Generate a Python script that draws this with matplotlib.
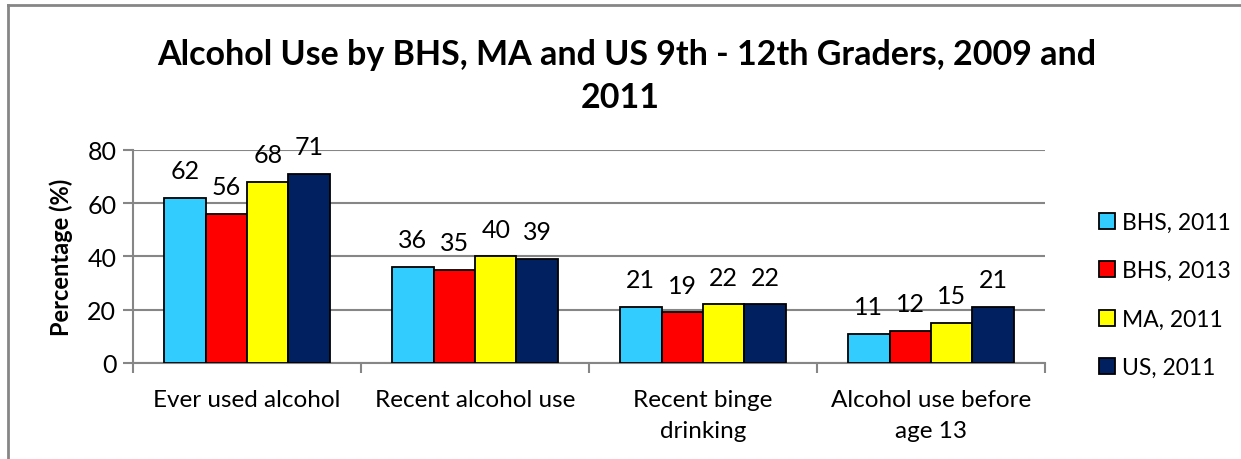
import matplotlib
matplotlib.use("Agg")
import matplotlib.pyplot as plt
import numpy as np
from matplotlib.lines import Line2D
from matplotlib.patches import Patch

categories = ["Ever used alcohol", "Recent alcohol use", "Recent binge\ndrinking", "Alcohol use before\nage 13"]
series_names = ["BHS, 2011", "BHS, 2013", "MA, 2011", "US, 2011"]
bhs_2011 = [62, 36, 21, 11]
bhs_2013 = [56, 35, 19, 12]
ma_2011 = [68, 40, 22, 15]
us_2011 = [71, 39, 22, 21]
colors = ["#33CCFF", "#FF0000", "#FFFF00", "#002060"]
yticks = [0, 20, 40, 60, 80]

plt.rcParams['font.family'] = ['Lato', 'DejaVu Sans']

W, H = 1241, 460
fig = plt.figure(figsize=(W/100, H/100), dpi=100)
ax = fig.add_axes([133/W, 1-364/H, (1045-133)/W, (364-150.7)/H])

data = [bhs_2011, bhs_2013, ma_2011, us_2011]
x = np.arange(len(categories))
bw = 0.182
grid_c = "#868686"
for i, (vals, c, name) in enumerate(zip(data, colors, series_names)):
    pos = x + (i - 1.5) * bw
    ax.bar(pos, vals, width=bw, color=c, edgecolor="black", linewidth=1.3, label=name, zorder=3)
    for px, v in zip(pos, vals):
        ax.annotate(str(v), (px, v), xytext=(0, 19.5), textcoords="offset points",
                    ha="center", va="center", fontsize=18)

ax.set_ylim(0, 80)
ax.set_xlim(-0.5, 3.5)
ax.set_yticks(yticks)
ax.set_yticklabels([str(t) for t in yticks], fontsize=18)
ax.yaxis.grid(True, color=grid_c, linewidth=1.5, zorder=0)
ax.set_axisbelow(True)
ax.tick_params(axis='y', length=7, width=1.5, color=grid_c, pad=5)
ax.set_xticks(x)
ax.set_xticklabels(categories, fontsize=17.5, linespacing=1.55, va='top')
ax.set_xticks(np.arange(-0.5, 4.0, 1.0), minor=True)
ax.tick_params(axis='x', which='major', length=0, pad=19)
ax.tick_params(axis='x', which='minor', length=7, width=1.5, color=grid_c)
for s in ['top', 'right']:
    ax.spines[s].set_visible(False)
for s in ['left', 'bottom']:
    ax.spines[s].set_color(grid_c)
    ax.spines[s].set_linewidth(1.5)

ax.set_ylabel("Percentage (%)", fontsize=17, fontweight='bold', labelpad=10)

handles = [Patch(facecolor=c, edgecolor="black", linewidth=1.3) for c in colors]
fig.legend(handles, series_names, loc='upper left', bbox_to_anchor=(1078/W, 1-192/H),
           frameon=False, fontsize=16.5, handlelength=0.7, handleheight=0.7,
           handletextpad=0.3, labelspacing=1.2)

fig.text(0.505, 1-55/H, "Alcohol Use by BHS, MA and US 9th - 12th Graders, 2009 and",
         ha='center', va='center', fontsize=24.5, fontweight='bold')
fig.text(0.5, 1-98/H, "2011", ha='center', va='center', fontsize=24.5, fontweight='bold')

fig.add_artist(Line2D([8/W, 1], [1-6/H, 1-6/H], color=grid_c, linewidth=2, transform=fig.transFigure))
fig.add_artist(Line2D([8/W, 8/W], [0, 1-6/H], color=grid_c, linewidth=2, transform=fig.transFigure))

fig.savefig("out.png", dpi=100, facecolor="white")
